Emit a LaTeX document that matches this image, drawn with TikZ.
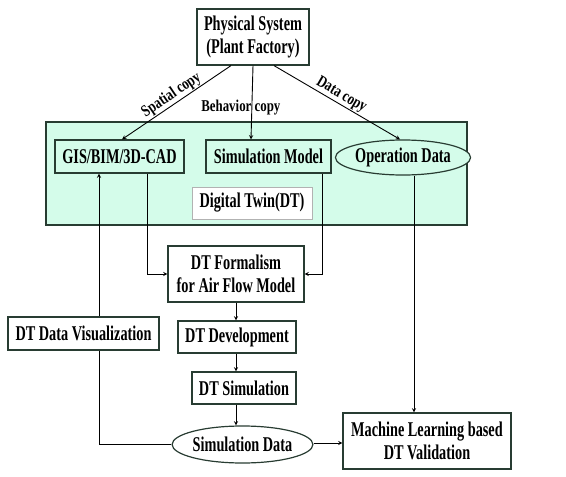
\documentclass[tikz,border=0pt]{standalone}
\usepackage{fontspec}
\setmainfont[FakeStretch=0.68, BoldFont={Liberation Serif Bold}]{Liberation Serif}
\newfontfamily\copyfont[FakeStretch=0.78, BoldFont={Liberation Serif Bold}]{Liberation Serif}
\usetikzlibrary{shapes.geometric}
\definecolor{mint}{RGB}{212,252,234}
\definecolor{edge}{RGB}{40,60,50}

\begin{document}
\begin{tikzpicture}[x=1pt, y=-1pt, >=stealth,
    box/.style={draw=edge, line width=1.2pt, fill=white, inner sep=0pt,
        align=center, font=\fontsize{21}{23}\selectfont\bfseries},
    oval/.style={box, ellipse},
    copylabel/.style={font=\copyfont\fontsize{16.5}{18}\selectfont\bfseries, inner sep=1pt},
    link/.style={->, line width=0.9pt, black}]
    \useasboundingbox (0,0) rectangle (566,477);

    % digital twin area
    \draw[draw=edge, line width=1.2pt, fill=mint] (46,122) rectangle (467,225);

    \node[box, minimum width=112pt, minimum height=56pt] (phys) at (253,37) {Physical System\\(Plant Factory)};
    \node[box, fill=mint, minimum width=129pt, minimum height=33pt] (gis) at (119.5,156.5) {GIS/BIM/3D-CAD};
    \node[box, fill=mint, minimum width=125pt, minimum height=33pt] (simmodel) at (268.5,156.5) {Simulation Model};
    \node[oval, fill=mint, minimum width=118pt, minimum height=35pt] (opdata) at (403,157.5) {Operation Data};
    \node[box, draw=gray!60, line width=0.6pt, minimum width=120pt, minimum height=32pt] (dtlabel) at (252,203) {Digital Twin(DT)};

    \node[box, minimum width=136pt, minimum height=56pt] (formal) at (236,274) {DT Formalism\\for Air Flow Model};
    \node[box, minimum width=118pt, minimum height=32pt] (devel) at (237,337) {DT Development};
    \node[box, minimum width=104pt, minimum height=32pt] (dtsim) at (244,388) {DT Simulation};
    \node[oval, minimum width=133pt, minimum height=37pt] (simdata) at (242.5,444.5) {Simulation Data};
    \node[box, minimum width=168pt, minimum height=56pt] (ml) at (427,441) {Machine Learning based\\DT Validation};

    % copies from the physical system
    \draw[link] ([xshift=-22pt]phys.south) -- ([xshift=2.5pt]gis.north)
        node[copylabel, midway, sloped, above] {Spatial copy};
    \draw[link] (phys.south) -- ([xshift=-17.5pt]simmodel.north)
        node[copylabel, pos=0.57, xshift=-11pt] {Behavior copy};
    \draw[link] ([xshift=21pt]phys.south) -- ([xshift=-3pt]opdata.north)
        node[copylabel, midway, sloped, above] {Data copy};

    \draw[link] ([xshift=27.5pt]gis.south) |- (formal.west);
    \draw[link] ([xshift=53.5pt]simmodel.south) |- (formal.east);
    \draw[link] ([xshift=11pt]opdata.south) -- ([xshift=11pt]opdata.south |- ml.north);

    \draw[link] (formal.south) -- (formal.south |- devel.north);
    \draw[link] ([xshift=-1pt]devel.south) -- ([xshift=-1pt]devel.south |- dtsim.north);
    \draw[link] ([xshift=-8pt]dtsim.south) -- ([xshift=-8pt]dtsim.south |- simdata.north);
    \draw[link] ([yshift=1.5pt]simdata.east) -- ([yshift=1.5pt]simdata.east -| ml.west);
    \draw[link] (simdata.west) -| ([xshift=-20.5pt]gis.south);

    \node[box, minimum width=151pt, minimum height=33pt] (vis) at (83.5,333.5) {DT Data Visualization};
\end{tikzpicture}
\end{document}
